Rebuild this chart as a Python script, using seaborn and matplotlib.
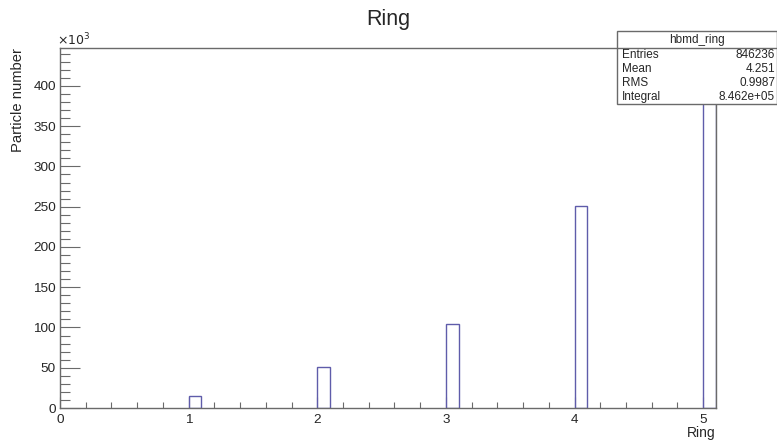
import numpy as np
import matplotlib
matplotlib.use('Agg')
import matplotlib.pyplot as plt
from matplotlib.ticker import MultipleLocator, FuncFormatter
import seaborn as sns

# histogram content (ROOT hbmd_ring), bin width 0.1
rings = [1, 2, 3, 4, 5]
counts = [14700, 51000, 104000, 250500, 425800]
bin_width = 0.1
x_max = 5.1

stat_names = ['Entries', 'Mean', 'RMS', 'Integral']
stat_values = ['846236', '4.251', '0.9987', '8.462e+05']
hist_name = 'hbmd_ring'

sns.set_style('white')
plt.rcParams['font.family'] = ['Liberation Sans', 'DejaVu Sans']

fig = plt.figure(figsize=(7.77, 4.40), dpi=100)
ax = fig.add_axes([60 / 777, (440 - 408) / 440, (716 - 60) / 777, (408 - 48) / 440])

centers = [r + bin_width / 2 for r in rings]
sns.barplot(x=centers, y=counts, native_scale=True, width=bin_width, fill=False,
            color='#5f5caa', linewidth=1.0, errorbar=None, ax=ax)

ax.set_xlim(0, x_max)
ax.set_ylim(0, 1.05 * max(counts))

frame_col = '#6a6a6a'
for s in ax.spines.values():
    s.set_visible(True)
    s.set_color(frame_col)
    s.set_linewidth(1.0)

ax.xaxis.set_major_locator(MultipleLocator(1))
ax.xaxis.set_minor_locator(MultipleLocator(0.2))
ax.yaxis.set_major_locator(MultipleLocator(50000))
ax.yaxis.set_minor_locator(MultipleLocator(10000))
ax.yaxis.set_major_formatter(FuncFormatter(lambda v, p: f'{v / 1000:.0f}'))
ax.xaxis.set_major_formatter(FuncFormatter(lambda v, p: f'{v:.0f}'))

ax.tick_params(axis='y', which='major', direction='in', length=14.4, width=0.8,
               color=frame_col, labelsize=9.7, pad=3, left=True, right=False)
ax.tick_params(axis='y', which='minor', direction='in', length=7.2, width=0.8,
               color=frame_col, left=True, right=False)
ax.tick_params(axis='x', which='major', direction='in', length=8, width=0.8,
               color=frame_col, labelsize=9.7, pad=4, bottom=True, top=False)
ax.tick_params(axis='x', which='minor', direction='in', length=4, width=0.8,
               color=frame_col, bottom=True, top=False)

ax.set_xlabel('Ring', fontsize=10, loc='right', labelpad=0)
ax.set_ylabel('Particle number', fontsize=10.6, loc='top', labelpad=6)
ax.text(-0.005, 1.0, r'$\times10^{3}$', transform=ax.transAxes, fontsize=9,
        ha='left', va='bottom')
fig.text(0.5, 0.955, 'Ring', fontsize=15.5, ha='center', va='center')

# stats box
bx0, bx1 = 617 / 777, 1.0
by_top, by_head, by_bot = 1 - 31 / 440, 1 - 48 / 440, 1 - 104 / 440
box = plt.Rectangle((bx0, by_bot), bx1 - bx0, by_top - by_bot, transform=fig.transFigure,
                    facecolor='white', edgecolor=frame_col, linewidth=1.0, zorder=5)
fig.add_artist(box)
fig.add_artist(plt.Line2D([bx0, bx1], [by_head, by_head], transform=fig.transFigure,
                          color=frame_col, linewidth=1.0, zorder=6))
fig.text((bx0 + bx1) / 2, (by_top + by_head) / 2, hist_name, fontsize=8.5,
         ha='center', va='center', zorder=7)
row_h = (by_head - by_bot) / len(stat_names)
for i, (n, v) in enumerate(zip(stat_names, stat_values)):
    yy = by_head - (i + 0.5) * row_h
    fig.text(bx0 + 5 / 777, yy, n, fontsize=8.5, ha='left', va='center', zorder=7)
    fig.text(bx1 - 2 / 777, yy, v, fontsize=8.5, ha='right', va='center', zorder=7)

fig.savefig('out.png', dpi=100)
